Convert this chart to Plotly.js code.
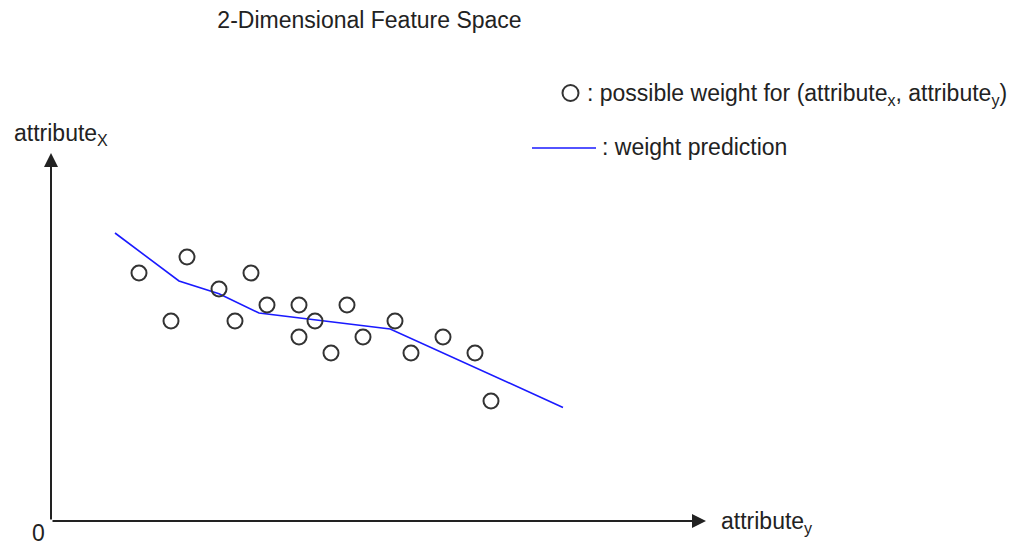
<!DOCTYPE html>
<html>
<head>
<meta charset="utf-8">
<script src="https://cdn.plot.ly/plotly-3.0.1.min.js"></script>
<style>html,body{margin:0;padding:0;background:#fff;}#chart{width:1036px;height:547px;}</style>
</head>
<body>
<div id="chart"></div>
<script>
// Observed weights (grid units)
const pointX = [5.5, 7.5, 8.5, 10.5, 11.5, 12.5, 13.5, 15.5, 15.5, 16.5, 17.5, 18.5, 19.5, 21.5, 22.5, 24.5, 26.5, 27.5];
const pointY = [15.5, 12.5, 16.5, 14.5, 12.5, 15.5, 13.5, 13.5, 11.5, 12.5, 10.5, 13.5, 11.5, 12.5, 10.5, 11.5, 10.5, 7.5];
// Prediction line
const lineX = [4, 8, 10.5, 13, 21.2, 32];
const lineY = [18, 15, 14.2, 13, 12, 7.1];
// Axis extents
const axisMaxX = 40.9375;
const axisMaxY = 23;

const titleText = '2-Dimensional Feature Space';
const legendPoints = ': possible weight for (attribute<sub>x</sub>, attribute<sub>y</sub>)';
const legendLine = ': weight prediction';
const yLabel = 'attribute<sub>X</sub>';
const xLabel = 'attribute<sub>y</sub>';
const originLabel = '0';

const W = 1036, H = 547;
const M = {l: 51, r: 330, t: 153, b: 26};
const PW = W - M.l - M.r, PH = H - M.t - M.b;
const px = v => (v - M.l) / PW;
const py = v => (H - M.b - v) / PH;

const FONT = 'Liberation Sans, Arial, sans-serif';
const TXT = '#222';
const FS = 23;

const traces = [
  {x: lineX, y: lineY, type: 'scatter', mode: 'lines',
   line: {color: '#1a1aff', width: 1.6}, hoverinfo: 'skip', showlegend: false},
  {x: pointX, y: pointY, type: 'scatter', mode: 'markers',
   marker: {symbol: 'circle-open', size: 15, color: '#333', line: {width: 2, color: '#333'}},
   hoverinfo: 'skip', showlegend: false, cliponaxis: false}
];

const ann = (text, x, y, xanchor, extra) => Object.assign({
  text: text, xref: 'paper', yref: 'paper', x: px(x), y: py(y),
  xanchor: xanchor, yanchor: 'middle', showarrow: false,
  font: {family: FONT, size: FS, color: TXT}
}, extra || {});

const layout = {
  width: W, height: H,
  margin: M,
  paper_bgcolor: '#fff', plot_bgcolor: '#fff',
  showlegend: false,
  title: {text: titleText, xref: 'container', yref: 'container',
          x: 369.5 / W, xanchor: 'center', y: 1 - 20 / H, yanchor: 'middle',
          font: {family: FONT, size: FS, color: TXT}},
  xaxis: {range: [0, axisMaxX], showgrid: false, zeroline: false, showline: false,
          showticklabels: false, ticks: '', fixedrange: true},
  yaxis: {range: [0, axisMaxY], showgrid: false, zeroline: false, showline: false,
          showticklabels: false, ticks: '', fixedrange: true},
  annotations: [
    // axes arrows
    {x: axisMaxX, y: 0, ax: 0, ay: 0, xref: 'x', yref: 'y', axref: 'x', ayref: 'y',
     text: '', showarrow: true, arrowhead: 2, arrowsize: 1.4, arrowwidth: 2, arrowcolor: '#222', standoff: 0},
    {x: 0, y: axisMaxY, ax: 0, ay: 0, xref: 'x', yref: 'y', axref: 'x', ayref: 'y',
     text: '', showarrow: true, arrowhead: 2, arrowsize: 1.4, arrowwidth: 2, arrowcolor: '#222', standoff: 0},
    ann(yLabel, 12, 134, 'left'),
    ann(xLabel, 719, 522, 'left'),
    ann(originLabel, 38, 533, 'center'),
    ann(legendPoints, 585, 94, 'left'),
    ann(legendLine, 600, 147, 'left')
  ],
  shapes: [
    {type: 'circle', xref: 'paper', yref: 'paper',
     x0: px(562.5), x1: px(578.5), y0: py(101), y1: py(85),
     line: {color: '#333', width: 2}},
    {type: 'line', xref: 'paper', yref: 'paper',
     x0: px(532), x1: px(596), y0: py(148), y1: py(148),
     line: {color: '#1a1aff', width: 1.6}}
  ]
};

Plotly.newPlot('chart', traces, layout, {displayModeBar: false, staticPlot: true});
</script>
</body>
</html>
